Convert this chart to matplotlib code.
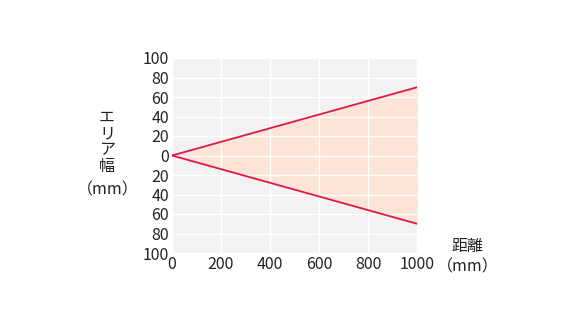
import matplotlib
matplotlib.use("Agg")
import matplotlib.pyplot as plt

plt.rcParams['font.family'] = ['Noto Sans CJK JP', 'DejaVu Sans']

distance = [0, 1000]
upper = [0, 70]
lower = [0, -70]
xticks = [0, 200, 400, 600, 800, 1000]
yticks = [-100, -80, -60, -40, -20, 0, 20, 40, 60, 80, 100]
yticklabels = [str(abs(v)) for v in yticks]

fig = plt.figure(figsize=(5.76, 3.24), dpi=100)
ax = fig.add_axes([172 / 576, 1 - 253 / 324, 245 / 576, 195 / 324])
ax.set_facecolor('#f2f2f2')

ax.fill_between(distance, lower, upper, color='#fce4d6', zorder=1)
ax.plot(distance, upper, color='#e0194a', lw=1.3, zorder=3)
ax.plot(distance, lower, color='#e0194a', lw=1.3, zorder=3)

ax.set_xlim(0, 1000)
ax.set_ylim(-100, 100)
ax.set_xticks(xticks)
ax.set_yticks(yticks)
ax.set_yticklabels(yticklabels)
ax.grid(True, color='white', lw=1.0, zorder=2)
ax.set_axisbelow(False)
for s in ax.spines.values():
    s.set_visible(False)
ax.tick_params(length=0, labelsize=11.5, colors='#222222', pad=2)

fig.text(107 / 576, 1 - 142 / 324, "エ\nリ\nア\n幅", ha='center', va='center',
         fontsize=11.5, linespacing=0.95, color='#222222')
fig.text(108 / 576, 1 - 190 / 324, "（mm）", ha='center', va='center',
         fontsize=11.5, color='#222222')
fig.text(467 / 576, 1 - 246 / 324, "距離", ha='center', va='center',
         fontsize=11.5, color='#222222')
fig.text(468 / 576, 1 - 267 / 324, "（mm）", ha='center', va='center',
         fontsize=11.5, color='#222222')

fig.savefig("out.png", dpi=100)
